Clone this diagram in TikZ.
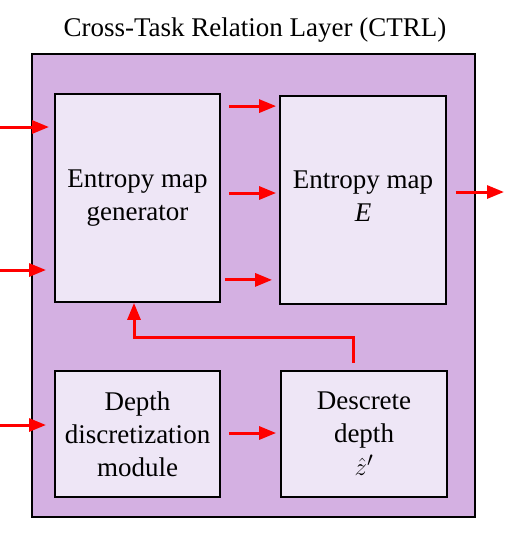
\documentclass[tikz,border=0pt]{standalone}
\usepackage{fontspec}
\setmainfont{Liberation Serif}
\usetikzlibrary{arrows.meta,calc}
\definecolor{outerfill}{RGB}{212,176,226}
\definecolor{innerfill}{RGB}{238,230,246}
\tikzset{
  blk/.style={draw=black, line width=1.8pt, fill=innerfill, inner sep=0pt, align=center,
    font=\fontsize{27}{33}\selectfont},
  redarrow/.style={draw=red, line width=3pt, -{Stealth[length=17pt,width=13pt,inset=0pt]}},
}
\begin{document}
\begin{tikzpicture}[x=1pt,y=-1pt]
\useasboundingbox (0,0) rectangle (507,536);
\node[font=\fontsize{27}{33}\selectfont] (title) at (255,30) {Cross-Task Relation Layer (CTRL)};
\node[draw=black, line width=1.3pt, fill=outerfill, minimum width=443pt, minimum height=463pt, inner sep=0pt] (outer) at (253.5,285.5) {};
\node[blk, minimum width=165pt, minimum height=208pt] (gen) at (137.5,198) {Entropy map\\generator};
\node[blk, minimum width=166pt, minimum height=208pt] (emap) at (363,200) {Entropy map\\\textit{E}\\[-25pt]\mbox{}};
\node[blk, minimum width=165pt, minimum height=126pt] (ddm) at (137.5,434) {Depth\\discretization\\module};
\node[blk, minimum width=166pt, minimum height=126pt] (dd) at (364,434) {Descrete\\depth\\\fontsize{32}{33}\selectfont$\hat{z}'$};
% inputs
\coordinate (in1) at (0,127);
\coordinate (in2) at (0,270);
\coordinate (in3) at (0,425);
\draw[redarrow] (in1) -- (49,127);
\draw[redarrow] (in2) -- (46,270);
\draw[redarrow] (in3) -- (46,425);
% gen -> emap
\draw[redarrow] ($(gen.north east)+(8,13)$) -- ($(emap.north west)+(-3,11)$);
\draw[redarrow] ($(gen.east)+(8,-5)$) -- ($(emap.west)+(-3,-7)$);
\draw[redarrow] ($(gen.south east)+(4,-23)$) -- ($(emap.south west)+(-7,-25)$);
% output
\coordinate (out) at (504,192);
\draw[redarrow] ($(emap.east)+(9,-8)$) -- (out);
% ddm -> dd
\draw[redarrow] ($(ddm.east)+(8,-1)$) -- ($(dd.west)+(-4,-1)$);
% feedback
\draw[redarrow] ($(dd.north)+(-11,-7)$) |- (134,337) -- (gen.south -| 134,0);
\end{tikzpicture}
\end{document}
